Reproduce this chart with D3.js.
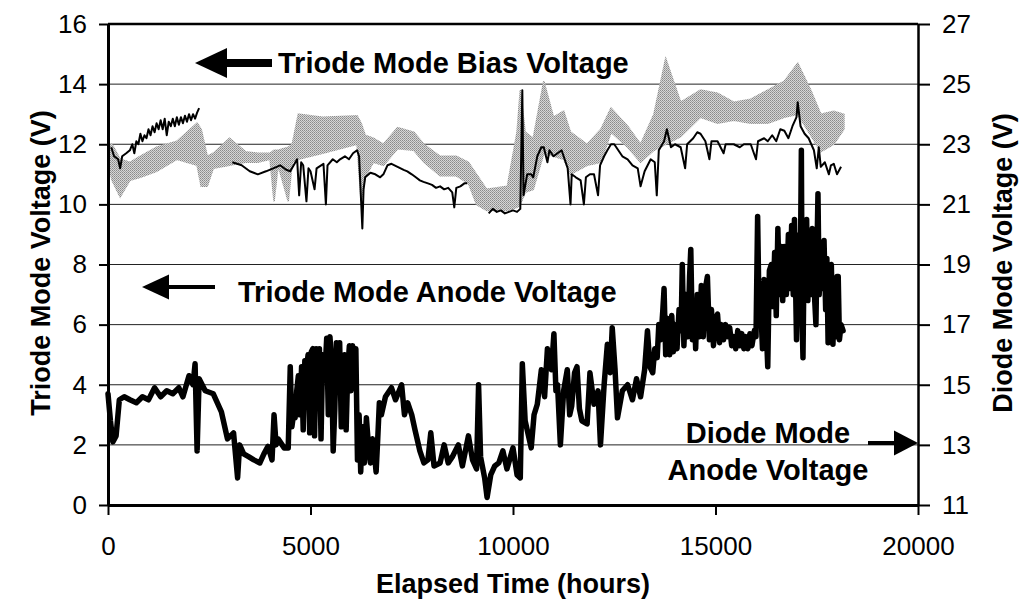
<!DOCTYPE html>
<html>
<head>
<meta charset="utf-8">
<script src="https://cdn.jsdelivr.net/npm/d3@7"></script>
<style>
  body { margin: 0; background: #fff; }
  svg text { font-family: "Liberation Sans", Arial, sans-serif; fill: #000; }
</style>
</head>
<body>
<svg id="chart" width="1024" height="615"></svg>
<script>
// axis ticks
const xTicks = [0, 5000, 10000, 15000, 20000]
const leftTicks = [0, 2, 4, 6, 8, 10, 12, 14, 16]
const rightTicks = [11, 13, 15, 17, 19, 21, 23, 25, 27]

// triode mode bias voltage (left axis), null = gap
const biasHours = [80, 150, 250, 300, 350, 450, 540, 600, 650, 700, 750, 800, 850, 900, 950, 1000, 1050, 1100, 1150, 1200, 1250, 1300, 1350, 1400, 1450, 1500, 1550, 1600, 1650, 1700, 1750, 1800, 1850, 1900, 1950, 2000, 2050, 2100, 2150, 2200, 2250, 2280,
  3070, 3300, 3500, 3700, 3900, 4080, 4250, 4400, 4500, 4670, 4720, 4770, 4820, 4900, 4950, 5000, 5100, 5150, 5320, 5380, 5420, 5550, 5650, 5730, 5850, 5950, 6050, 6150, 6200, 6250, 6280, 6310, 6350,
  6480, 6600, 6720, 6800, 6900, 7000, 7150, 7300, 7390, 7500, 7600, 7700, 7790, 7900, 8000, 8100, 8200, 8300, 8400, 8500, 8550, 8600, 8700, 8800, 8870, 8900,
  9400, 9500, 9600, 9700, 9800, 9900, 10000, 10100, 10180, 10230, 10260, 10350, 10450, 10500, 10600, 10700, 10760, 10850, 10900, 11000, 11100, 11200, 11250, 11350, 11420, 11450, 11550, 11670, 11750, 11800, 11900, 12000, 12100, 12150, 12250, 12330, 12420, 12500, 12600, 12700, 12830, 12950, 13080, 13150, 13250, 13400, 13500, 13550, 13600, 13730, 13800, 13900, 14000, 14140, 14250, 14300, 14450, 14550, 14630, 14750, 14850, 14900, 15050, 15200, 15250, 15450, 15600, 15700, 15870, 16000, 16050, 16200, 16290, 16400, 16500, 16600, 16700, 16800, 16900, 17000, 17030, 17100, 17200, 17300, 17430, 17500, 17550, 17600, 17700, 17800, 17850, 17920, 18000, 18100]
const biasVolts = [11.9, 11.6, 11.5, 11.2, 11.6, 11.7, 11.8, 12.0, 11.7, 12.1, 12.0, 12.35, 12.1, 12.3, 12.2, 12.5, 12.3, 12.6, 12.4, 12.7, 12.5, 12.8, 12.5, 12.85, 12.3, 12.75, 12.6, 12.85, 12.6, 12.9, 12.65, 12.9, 12.7, 12.95, 12.75, 13.0, 12.8, 13.0, 12.85, 13.05, 13.2, null,
  11.4, 11.3, 11.1, 11.0, 11.1, 11.2, 11.3, 11.15, 11.1, 11.5, 10.3, 11.4, 11.3, 10.1, 11.2, 11.1, 10.5, 11.2, 11.35, 10.0, 11.3, 11.5, 11.4, 11.5, 11.6, 11.5, 11.7, 11.8, 11.6, 10.1, 9.2, 10.5, 10.9,
  11.05, 11.0, 10.9, 11.0, 11.3, 11.35, 11.25, 11.15, 11.1, 11.0, 10.9, 10.8, 10.75, 10.7, 10.65, 10.55, 10.6, 10.5, 10.55, 10.4, 9.9, 10.55, 10.6, 10.7, 10.7, null,
  9.7, 9.85, 9.75, 9.8, 9.7, 9.75, 9.8, 9.75, 9.85, 13.8, 10.3, 11.0, 11.0, 10.9, 11.6, 11.9, 11.9, 11.4, 11.8, 11.6, 11.7, 11.8, 11.6, 11.2, 10.0, 11.0, 10.9, 10.8, 10.0, 10.9, 11.0, 11.0, 10.3, 11.3, 11.6, 11.8, 12.0, 12.0, 11.8, 11.6, 11.5, 11.3, 11.2, 10.6, 11.1, 11.5, 11.4, 10.3, 11.8, 12.1, 12.5, 11.9, 12.0, 11.9, 11.2, 12.0, 12.2, 12.4, 12.35, 12.1, 11.5, 12.1, 12.1, 11.7, 12.0, 12.0, 11.9, 12.0, 12.0, 11.5, 12.1, 12.2, 12.1, 12.3, 12.1, 12.5, 12.45, 12.2, 12.6, 12.9, 13.4, 12.6, 12.35, 12.2, 11.8, 11.2, 11.9, 11.25, 11.4, 11.0, 11.3, 11.35, 11.0, 11.25]

// diode mode anode voltage (right axis), band low / high
const diodeHours = [0, 100, 300, 540, 800, 1200, 1700, 2200, 2300, 2450, 2600, 3000, 3400, 3700, 4000, 4100, 4200, 4450, 4550, 4700, 5300, 6150, 6250, 6350, 6550, 6800, 7150, 7550, 7800, 8200, 8600, 8900, 9100, 9350, 9860, 10100, 10180, 10300, 10500, 10760, 11000, 11250, 11420, 11830, 12170, 12420, 12830, 13150, 13480, 13770, 14140, 14630, 15050, 15450, 15870, 16290, 16700, 17030, 17350, 17600, 17920, 18170]
const diodeLow = [22.4, 21.8, 21.25, 21.8, 21.9, 22.1, 22.5, 22.3, 21.6, 21.6, 22.2, 22.3, 22.4, 22.4, 22.5, 21.1, 22.3, 21.1, 22.4, 22.5, 22.7, 23.0, 21.1, 21.9, 22.4, 22.3, 22.85, 22.8, 22.4, 21.95, 21.95, 21.7, 21.0, 20.8, 20.8, 20.9, 21.0, 21.4, 21.5, 22.7, 22.6, 22.5, 22.0, 22.3, 22.4, 23.4, 22.9, 22.4, 22.8, 23.0, 23.25, 23.9, 23.7, 23.8, 23.7, 23.7, 23.9, 24.0, 23.3, 22.75, 23.0, 23.5]
const diodeHigh = [23.0, 23.0, 22.5, 22.4, 22.6, 22.9, 23.1, 23.7, 23.5, 22.6, 22.7, 23.2, 22.75, 22.7, 22.7, 22.8, 22.8, 22.9, 23.0, 24.0, 23.9, 23.95, 23.7, 23.3, 23.2, 23.0, 23.55, 23.4, 23.0, 22.6, 22.6, 22.4, 22.0, 21.5, 21.6, 23.4, 24.8, 23.4, 23.2, 25.1, 23.9, 24.1, 23.4, 23.0, 23.5, 24.2, 23.6, 23.0, 24.0, 25.85, 24.4, 24.8, 24.7, 24.4, 24.5, 24.8, 25.1, 25.7, 24.8, 24.0, 24.1, 24.0]

// triode mode anode voltage (left axis)
const anodeHours = [0, 60, 120, 200, 280, 400, 540, 700, 850, 1000, 1150, 1300, 1450, 1600, 1750, 1850, 2000, 2100, 2150, 2200, 2250, 2400, 2600, 2800, 2950, 3100, 3200, 3250, 3350, 3480, 3600, 3750, 3850, 3950, 4050, 4100, 4150, 4200, 4350,
  4450, 4500, 4540, 4580, 4620, 4660, 4700, 4740, 4780, 4820, 4860, 4900, 4940, 4980, 5020, 5060, 5100, 5140, 5180, 5220, 5260, 5300, 5350, 5400, 5440, 5480, 5520, 5560, 5600, 5640, 5680, 5720, 5760, 5800, 5840, 5880, 5920, 5960, 6000, 6040, 6080, 6120, 6160, 6200, 6240, 6280, 6330, 6380, 6430, 6480, 6530, 6580, 6620, 6660,
  6700, 6750, 6850, 7000, 7100, 7250, 7320, 7400, 7500, 7580, 7700, 7800, 7900, 7970, 8050, 8200, 8300, 8400, 8500, 8650, 8750, 8900, 9000, 9100, 9150, 9200, 9300, 9360, 9450, 9550, 9650, 9750, 9850, 10000, 10100, 10180, 10230, 10300, 10350, 10450, 10520, 10600, 10700, 10780, 10850, 10950, 11010, 11060, 11100, 11170, 11250, 11340, 11400, 11450, 11520, 11580, 11640, 11700, 11830, 11900, 12000, 12100, 12160, 12250, 12330, 12400, 12450, 12520, 12580, 12700, 12830, 12950, 13050, 13150, 13250, 13320, 13380,
  13450, 13500, 13560, 13600, 13650, 13700, 13730, 13770, 13820, 13870, 13920, 13960, 14000, 14050, 14100, 14150, 14180, 14220, 14270, 14320, 14360, 14390, 14430, 14470, 14510, 14550, 14600, 14650, 14700, 14750, 14800, 14850, 14900, 14950, 15000, 15050, 15100, 15150, 15200, 15250, 15300, 15350, 15400, 15450, 15500, 15550, 15600, 15650, 15700, 15750, 15800, 15850, 15900, 15960,
  16000, 16040, 16080, 16120, 16160, 16200, 16250, 16290, 16330, 16380, 16420, 16460, 16500, 16540, 16580, 16620, 16660, 16700, 16750, 16800, 16840, 16880, 16920, 16950, 17000, 17030, 17060, 17090, 17120, 17140, 17160, 17190, 17220, 17250, 17280, 17320, 17350, 17390, 17420, 17450, 17480, 17510, 17530, 17560, 17600, 17640, 17680, 17720, 17750, 17780, 17820, 17860, 17900, 17930, 17970, 18000, 18030, 18060, 18100, 18150]
const anodeVolts = [3.7, 2.8, 2.1, 2.3, 3.5, 3.6, 3.5, 3.4, 3.6, 3.5, 3.9, 3.6, 3.8, 3.7, 3.9, 3.6, 4.3, 4.0, 4.7, 1.8, 4.2, 3.8, 3.7, 3.1, 2.2, 2.4, 0.9, 2.0, 1.7, 1.6, 1.5, 1.4, 1.7, 1.95, 1.5, 3.0, 2.0, 2.2, 1.9,
  1.9, 4.6, 2.6, 3.0, 2.9, 3.8, 4.3, 3.0, 4.6, 2.5, 4.8, 4.5, 5.0, 2.4, 5.1, 5.2, 2.3, 5.2, 3.5, 5.2, 2.2, 5.0, 4.2, 5.55, 3.0, 5.6, 4.8, 1.8, 3.2, 5.4, 4.0, 5.4, 2.6, 4.8, 5.0, 2.5, 4.5, 5.3, 3.8, 5.3, 4.2, 5.2, 1.5, 3.0, 1.1, 2.6, 1.4, 2.9, 2.0, 1.4, 2.2, 1.7, 1.1, 2.2,
  3.4, 3.0, 3.6, 3.9, 3.5, 4.0, 3.0, 3.4, 3.0, 2.5, 1.8, 1.4, 1.5, 2.4, 1.3, 1.4, 2.0, 1.4, 1.6, 2.0, 1.3, 2.3, 1.5, 1.2, 4.0, 1.6, 0.9, 0.25, 1.0, 1.3, 1.4, 1.8, 1.2, 1.9, 1.0, 0.9, 4.7, 2.8, 2.5, 1.9, 3.0, 3.35, 4.5, 3.6, 5.2, 4.5, 5.7, 3.8, 4.0, 2.0, 3.8, 4.5, 3.0, 3.3, 4.4, 4.6, 3.2, 2.8, 2.7, 4.4, 3.35, 3.8, 2.0, 4.0, 5.35, 4.4, 5.9, 4.5, 2.9, 3.8, 4.0, 3.5, 4.2, 3.6, 4.5, 5.8, 4.6,
  4.4, 5.2, 4.9, 6.0, 5.5, 6.5, 7.2, 5.0, 6.2, 5.0, 6.3, 5.1, 6.0, 5.2, 6.5, 5.8, 8.0, 5.3, 7.0, 5.6, 7.6, 8.5, 5.5, 6.8, 5.2, 7.0, 5.6, 7.3, 5.6, 7.2, 7.6, 5.5, 6.5, 5.3, 6.2, 6.35, 5.4, 6.0, 5.5, 6.0, 5.6, 5.9, 5.3, 5.6, 5.2, 5.8, 5.3, 5.7, 5.2, 5.6, 5.2, 5.7, 5.3, 5.8,
  5.6, 9.6, 6.0, 6.5, 5.2, 7.5, 6.0, 4.6, 7.8, 8.0, 6.6, 8.4, 6.3, 9.2, 7.0, 8.6, 6.8, 8.6, 7.0, 9.0, 7.2, 9.3, 7.0, 9.5, 5.5, 8.5, 9.0, 7.0, 11.8, 6.0, 4.9, 8.5, 8.2, 9.5, 6.8, 9.0, 7.0, 9.2, 8.5, 6.8, 6.0, 8.8, 10.35, 7.0, 8.5, 7.2, 8.8, 6.5, 8.2, 5.4, 7.8, 8.0, 5.35, 7.0, 5.6, 7.6, 7.6, 5.5, 6.0, 5.8]

const svg = d3.select("#chart")

const x = d3.scaleLinear().domain([0, 20000]).range([108, 918])
const yL = d3.scaleLinear().domain([0, 16]).range([505, 24])
const yR = d3.scaleLinear().domain([11, 27]).range([505, 24])

// stipple pattern for the grey band
const pat = svg.append("defs").append("pattern")
  .attr("id", "stipple")
  .attr("width", 2).attr("height", 2)
  .attr("patternUnits", "userSpaceOnUse")
pat.append("rect").attr("width", 2).attr("height", 2).attr("fill", "#d6d6d6")
pat.append("rect").attr("width", 1).attr("height", 1).attr("fill", "#8a8a8a")
pat.append("rect").attr("x", 1).attr("y", 1).attr("width", 1).attr("height", 1).attr("fill", "#a0a0a0")

// gridlines
svg.append("g")
  .selectAll("line")
  .data(leftTicks.slice(1, -1))
  .enter().append("line")
    .attr("x1", x(0)).attr("x2", x(20000))
    .attr("y1", d => yL(d)).attr("y2", d => yL(d))
    .attr("stroke", "#222").attr("stroke-width", 1)

// grey diode band
const diode = diodeHours.map((h, i) => ({ h: h, lo: diodeLow[i], hi: diodeHigh[i] }))
svg.append("path")
  .datum(diode)
  .attr("fill", "url(#stipple)")
  .attr("stroke", "url(#stipple)")
  .attr("stroke-width", 1.5)
  .attr("d", d3.area()
    .x(d => x(d.h))
    .y0(d => yR(d.lo))
    .y1(d => yR(d.hi)))

// bias line
const bias = biasHours.map((h, i) => ({ h: h, v: biasVolts[i] }))
svg.append("path")
  .datum(bias)
  .attr("fill", "none")
  .attr("stroke", "#000")
  .attr("stroke-width", 2)
  .attr("stroke-linejoin", "round")
  .attr("d", d3.line()
    .defined(d => d.v !== null)
    .x(d => x(d.h))
    .y(d => yL(d.v)))

// anode line
const anode = anodeHours.map((h, i) => ({ h: h, v: anodeVolts[i] }))
svg.append("path")
  .datum(anode)
  .attr("fill", "none")
  .attr("stroke", "#000")
  .attr("stroke-width", 5.5)
  .attr("stroke-linejoin", "round")
  .attr("stroke-linecap", "round")
  .attr("d", d3.line()
    .x(d => x(d.h))
    .y(d => yL(d.v)))

// frame top
svg.append("line")
  .attr("x1", x(0)).attr("x2", x(20000))
  .attr("y1", yL(16)).attr("y2", yL(16))
  .attr("stroke", "#000").attr("stroke-width", 2.5)

// axes
function styleAxis(g, w) {
  g.select(".domain").attr("stroke", "#000").attr("stroke-width", w)
  g.selectAll(".tick line").attr("stroke", "#000").attr("stroke-width", 2)
  g.selectAll(".tick text")
    .style("font-size", "26px")
    .attr("fill", "#000")
}

svg.append("g")
  .attr("transform", "translate(" + x(20000) + ",0)")
  .call(d3.axisRight(yR).tickValues(rightTicks).tickSize(12).tickSizeOuter(0).tickPadding(12))
  .call(g => styleAxis(g, 2.5))

svg.append("g")
  .attr("transform", "translate(0," + yL(0) + ")")
  .call(d3.axisBottom(x).tickValues(xTicks).tickFormat(d3.format("d")).tickSize(10).tickSizeOuter(0).tickPadding(22))
  .call(g => styleAxis(g, 3))

svg.append("g")
  .attr("transform", "translate(" + x(0) + ",0)")
  .call(d3.axisLeft(yL).tickValues(leftTicks).tickSize(9).tickSizeOuter(0).tickPadding(12))
  .call(g => styleAxis(g, 3))

// axis titles
svg.append("text")
  .attr("transform", "translate(50,263) rotate(-90)")
  .attr("text-anchor", "middle")
  .style("font-size", "27px").style("font-weight", "bold")
  .text("Triode Mode Voltage (V)")

svg.append("text")
  .attr("transform", "translate(1012,263) rotate(-90)")
  .attr("text-anchor", "middle")
  .style("font-size", "27px").style("font-weight", "bold")
  .text("Diode Mode Voltage (V)")

svg.append("text")
  .attr("x", 513).attr("y", 593)
  .attr("text-anchor", "middle")
  .style("font-size", "27px").style("font-weight", "bold")
  .text("Elapsed Time (hours)")

// annotations
function arrow(x1, x2, y, shaft, headLen, headH) {
  // x1 = tip, x2 = tail
  const dir = x2 > x1 ? 1 : -1
  const hx = x1 + dir * headLen
  svg.append("line")
    .attr("x1", hx).attr("x2", x2)
    .attr("y1", y).attr("y2", y)
    .attr("stroke", "#000").attr("stroke-width", shaft)
  svg.append("path")
    .attr("d", "M" + x1 + "," + y + "L" + hx + "," + (y - headH / 2) + "L" + hx + "," + (y + headH / 2) + "Z")
    .attr("fill", "#000")
}

arrow(195, 272, 63, 8, 32, 30)
arrow(142, 215, 287, 4, 27, 25)
arrow(918, 868, 443, 4, 24, 25)

const note = (t, xx, yy, anchor) => svg.append("text")
  .attr("x", xx).attr("y", yy)
  .attr("text-anchor", anchor)
  .style("font-size", "29px").style("font-weight", "bold")
  .text(t)

note("Triode Mode Bias Voltage", 278, 73, "start")
note("Triode Mode Anode Voltage", 238, 302, "start")
note("Diode Mode", 768, 443, "middle")
note("Anode Voltage", 768, 480, "middle")
</script>
</body>
</html>
